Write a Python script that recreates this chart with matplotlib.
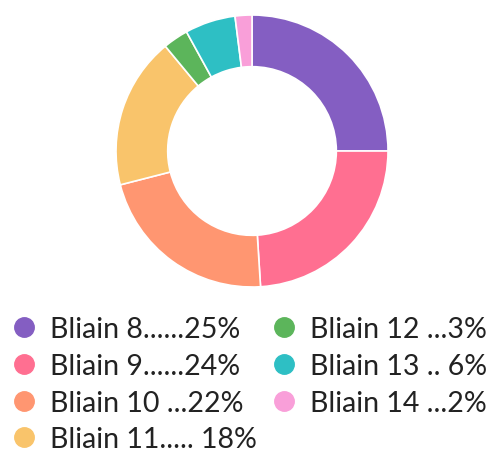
import matplotlib.pyplot as plt
from matplotlib.lines import Line2D

# data
labels = ["Bliain 8", "Bliain 9", "Bliain 10", "Bliain 11",
          "Bliain 12", "Bliain 13", "Bliain 14"]
values = [25, 24, 22, 18, 3, 6, 2]
legend_text = ["Bliain 8......25%", "Bliain 9......24%", "Bliain 10 ...22%",
               "Bliain 11..... 18%", "Bliain 12 ...3%", "Bliain 13 .. 6%",
               "Bliain 14 ...2%"]
colors = ["#845EC2", "#FF6F91", "#FF9671", "#F9C46B",
          "#5CB55B", "#2EBFC4", "#F99FD9"]

fig = plt.figure(figsize=(4.86, 4.56), dpi=100)
ax = fig.add_axes([0.2387, 0.3684, 0.5597, 0.5965])

ax.pie(values, colors=colors, startangle=90, counterclock=False,
       radius=1.0, wedgeprops=dict(width=0.38, edgecolor="white", linewidth=1.2))
ax.set_xlim(-1, 1)
ax.set_ylim(-1, 1)
ax.set_aspect("equal")
ax.axis("off")

handles = [Line2D([], [], marker="o", linestyle="none", markersize=14,
                  markerfacecolor=c, markeredgecolor=c) for c in colors]
fig.legend(handles, legend_text, loc="upper left", bbox_to_anchor=(0.02, 0.305),
           ncol=2, frameon=False,
           prop={"family": "Lato", "size": 20.5},
           labelcolor="#222222", handlelength=1.0, handletextpad=0.42,
           columnspacing=0.45, labelspacing=0.38, borderpad=0, borderaxespad=0)

fig.savefig("out.png", dpi=100)
